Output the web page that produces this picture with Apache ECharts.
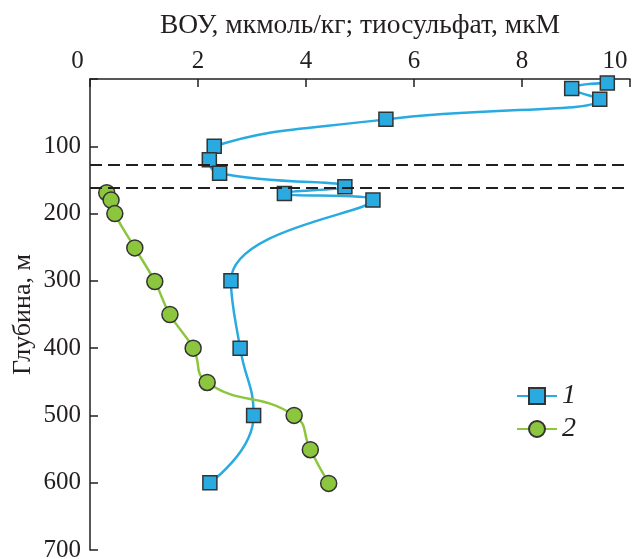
<!DOCTYPE html>
<html><head><meta charset="utf-8">
<script src="https://cdn.jsdelivr.net/npm/echarts@6/dist/echarts.min.js"></script>
<style>html,body{margin:0;padding:0;background:#fff}#c{width:643px;height:559px}</style>
</head><body><div id="c"></div>
<script>
// Series 1: ВОУ (squares)
const aouValues = [9.58, 8.92, 9.44, 5.48, 2.30, 2.21, 2.40, 4.72, 3.60, 5.24, 2.61, 2.78, 3.03, 2.22];
const aouDepths = [6, 14, 30, 60, 100, 120, 140, 160, 170, 180, 300, 400, 500, 600];
// Series 2: тиосульфат (circles)
const thioValues = [0.31, 0.39, 0.46, 0.83, 1.20, 1.48, 1.91, 2.17, 3.78, 4.08, 4.42];
const thioDepths = [169, 180, 200, 251, 301, 350, 400, 451, 500, 551, 601];
// Dashed horizontal levels
const dashedLevels = [128, 161];
const xTicks = [0, 2, 4, 6, 8, 10];
const yTicks = [0, 100, 200, 300, 400, 500, 600, 700];
const seriesNames = ['1', '2'];

const FONT = 'Liberation Serif';
const INK = '#231F20';
const FS = 25;
const chart = echarts.init(document.getElementById('c'), null, {renderer: 'canvas'});
const pairs = (xs, ys) => xs.map((v, i) => [v, ys[i]]);

chart.setOption({
  animation: false,
  backgroundColor: '#fff',
  grid: {left: 90, right: 13, top: 79, bottom: 9, containLabel: false, outerBoundsMode: 'none'},
  xAxis: {
    type: 'value', position: 'top', min: xTicks[0], max: xTicks[xTicks.length - 1], interval: 2,
    name: 'ВОУ, мкмоль/кг; тиосульфат, мкМ', nameLocation: 'middle', nameGap: 39,
    nameTextStyle: {fontFamily: FONT, fontSize: 27.5, color: INK},
    axisLine: {lineStyle: {color: INK, width: 1.5}},
    axisTick: {inside: true, length: 8, lineStyle: {color: INK, width: 1.5}},
    splitLine: {show: false},
    axisLabel: {
      fontFamily: FONT, fontSize: FS, color: INK, margin: 5,
      formatter: v => v === 0 ? '{z|0}' : (v === 10 ? '{t|10}' : String(v)),
      rich: {
        z: {fontFamily: FONT, fontSize: FS, color: INK, padding: [0, 25, 0, 0]},
        t: {fontFamily: FONT, fontSize: FS, color: INK, padding: [0, 30, 0, 0]}
      }
    }
  },
  yAxis: {
    type: 'value', inverse: true, min: yTicks[0], max: yTicks[yTicks.length - 1], interval: 100,
    name: 'Глубина, м', nameLocation: 'middle', nameGap: 54, nameRotate: 90, nameMoveOverlap: false,
    nameTextStyle: {fontFamily: FONT, fontSize: 26, color: INK},
    axisLine: {lineStyle: {color: INK, width: 1.5}},
    axisTick: {inside: true, length: 8, lineStyle: {color: INK, width: 1.5}},
    splitLine: {show: false},
    axisLabel: {fontFamily: FONT, fontSize: FS, color: INK, margin: 9,
      formatter: v => v === 0 ? '' : String(v)}
  },
  legend: {
    orient: 'vertical', left: 511, top: 377, itemWidth: 40, itemHeight: 20, itemGap: 5,
    textStyle: {fontFamily: FONT, fontSize: 28, fontStyle: 'italic', color: INK},
    data: seriesNames
  },
  series: [
    {
      name: seriesNames[0], type: 'line', smooth: 0.5,
      data: pairs(aouValues, aouDepths),
      symbol: 'rect', symbolSize: 14,
      lineStyle: {color: '#29ABE2', width: 2.5},
      itemStyle: {color: '#29ABE2', borderColor: '#333333', borderWidth: 1.5},
      z: 3,
      markLine: {
        silent: true, symbol: 'none', label: {show: false},
        lineStyle: {color: INK, type: [12, 6], width: 2},
        data: dashedLevels.map(v => ({yAxis: v}))
      }
    },
    {
      name: seriesNames[1], type: 'line', smooth: 0.5,
      data: pairs(thioValues, thioDepths),
      symbol: 'circle', symbolSize: 16,
      lineStyle: {color: '#8CC63F', width: 2.5},
      itemStyle: {color: '#8CC63F', borderColor: '#333333', borderWidth: 1.5},
      z: 3
    }
  ]
});
</script></body></html>
